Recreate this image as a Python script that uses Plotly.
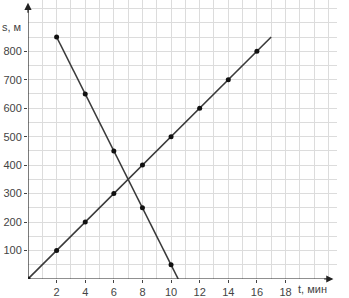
import plotly.graph_objects as go

# data
t_points_1 = [0, 2, 4, 6, 8, 10, 12, 14, 16]
s_points_1 = [0, 100, 200, 300, 400, 500, 600, 700, 800]
t_line_1 = [0, 17]
s_line_1 = [0, 850]

t_points_2 = [2, 4, 6, 8, 10]
s_points_2 = [850, 650, 450, 250, 50]
t_line_2 = [2, 10.5]
s_line_2 = [850, 0]

x_ticks = [2, 4, 6, 8, 10, 12, 14, 16, 18]
y_ticks = [100, 200, 300, 400, 500, 600, 700, 800]

line_color = "#3a3a3a"
grid_color = "#dcdcdc"
font = dict(family="Liberation Sans, Arial, sans-serif", size=11, color="#444")

fig = go.Figure()
for tx, sy in [(t_line_1, s_line_1), (t_line_2, s_line_2)]:
    fig.add_trace(go.Scatter(x=tx, y=sy, mode="lines",
                             line=dict(color=line_color, width=1.6),
                             hoverinfo="skip", showlegend=False))
for tx, sy in [(t_points_1, s_points_1), (t_points_2, s_points_2)]:
    fig.add_trace(go.Scatter(x=tx, y=sy, mode="markers",
                             marker=dict(color="#111", size=5),
                             showlegend=False))

XMAX = 21.6
YMAX = 980

fig.update_layout(
    width=349, height=298,
    margin=dict(l=28, r=12, t=0, b=17),
    paper_bgcolor="white", plot_bgcolor="white",
    font=font,
    xaxis=dict(range=[0, XMAX], tickvals=x_ticks, ticktext=[str(v) for v in x_ticks],
               showgrid=True, gridcolor=grid_color, gridwidth=1,
               minor=dict(dtick=1, tick0=0, showgrid=True, gridcolor=grid_color, gridwidth=1),
               ticks="outside", ticklen=3, tickcolor="#444",
               zeroline=False, showline=False, fixedrange=True),
    yaxis=dict(range=[0, YMAX], tickvals=y_ticks, ticktext=[str(v) for v in y_ticks],
               showgrid=True, gridcolor=grid_color, gridwidth=1,
               minor=dict(dtick=50, tick0=0, showgrid=True, gridcolor=grid_color, gridwidth=1),
               ticks="outside", ticklen=3, tickcolor="#444",
               zeroline=False, showline=False, fixedrange=True),
)

# axes with arrows
fig.add_shape(type="line", x0=0, y0=0, x1=21.0, y1=0, xref="x", yref="y",
              line=dict(color="#222", width=1.2))
fig.add_shape(type="line", x0=0, y0=0, x1=0, y1=950, xref="x", yref="y",
              line=dict(color="#222", width=1.2))
fig.add_annotation(x=21.35, y=0, ax=20.6, ay=0, xref="x", yref="y", axref="x", ayref="y",
                   showarrow=True, arrowhead=2, arrowsize=1.2, arrowwidth=1.2, arrowcolor="#222", text="")
fig.add_annotation(x=0, y=970, ax=0, ay=930, xref="x", yref="y", axref="x", ayref="y",
                   showarrow=True, arrowhead=2, arrowsize=1.2, arrowwidth=1.2, arrowcolor="#222", text="")

fig.add_annotation(x=-0.015, y=885, xref="paper", yref="y", text="s, м", showarrow=False,
                   xanchor="right", yanchor="middle", font=font)
fig.add_annotation(x=18.7, y=0, xref="x", yref="y", text="t, мин", showarrow=False,
                   xanchor="left", yanchor="top", yshift=-2, font=font)

fig.write_html("out.html")
